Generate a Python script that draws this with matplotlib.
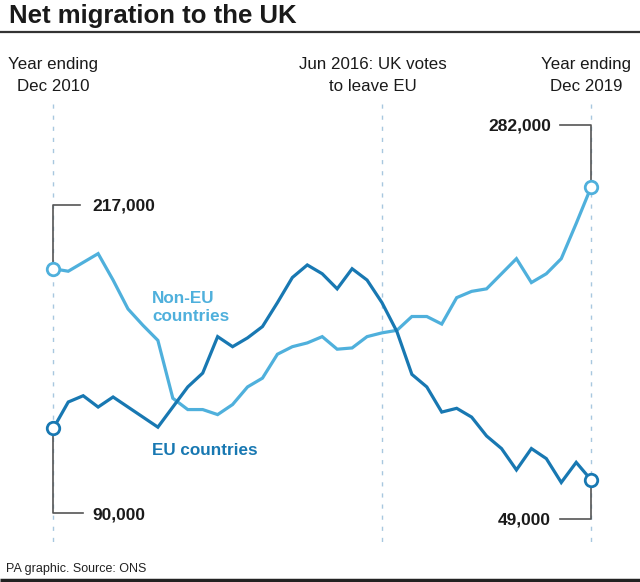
import matplotlib
matplotlib.use("Agg")
import matplotlib.pyplot as plt
import matplotlib.transforms as mtransforms

# ---- data (net migration, thousands, year ending each quarter) ----
quarters = ["Dec 2010", "Mar 2011", "Jun 2011", "Sep 2011", "Dec 2011", "Mar 2012", "Jun 2012",
            "Sep 2012", "Dec 2012", "Mar 2013", "Jun 2013", "Sep 2013", "Dec 2013", "Mar 2014",
            "Jun 2014", "Sep 2014", "Dec 2014", "Mar 2015", "Jun 2015", "Sep 2015", "Dec 2015",
            "Mar 2016", "Jun 2016", "Sep 2016", "Dec 2016", "Mar 2017", "Jun 2017", "Sep 2017",
            "Dec 2017", "Mar 2018", "Jun 2018", "Sep 2018", "Dec 2018", "Mar 2019", "Jun 2019",
            "Sep 2019", "Dec 2019"]
non_eu = [217, 215, 222, 229, 208, 185, 172, 160, 114, 105, 105, 101, 109, 123, 130, 149, 155,
          158, 163, 153, 154, 163, 166, 168, 179, 179, 173, 194, 199, 201, 213, 225, 206, 213,
          225, 253, 282]
eu = [90, 111, 116, 107, 115, 107, 99, 91, 107, 123, 134, 163, 155, 162, 171, 190, 210, 220,
      213, 201, 217, 208, 190, 167, 133, 123, 103, 106, 99, 84, 74, 57, 74, 66, 47, 63, 49]
marker_quarters = ["Dec 2010", "Jun 2016", "Dec 2019"]
header_labels = ["Year ending\nDec 2010", "Jun 2016: UK votes\nto leave EU", "Year ending\nDec 2019"]

NONEU_C = "#4fb0dc"
EU_C = "#1878b2"
DASH_C = "#a8c7df"
LEAD_C = "#555555"
TXT = "#1a1a1a"

plt.rcParams['font.family'] = ['Liberation Sans', 'DejaVu Sans']

W, H = 640, 582
fig = plt.figure(figsize=(W / 100, H / 100), dpi=100)
fig.patch.set_facecolor("white")
ax = fig.add_axes([0, 0, 1, 1])
ax.set_xlim(-3.568, 39.27)
ax.set_ylim(-32.13, 430.7)
ax.axis("off")

x = list(range(len(quarters)))

def fx(px):
    return px / W

def fy(py):
    return 1 - py / H

# title + rules
fig.text(fx(9), fy(22.7), "Net migration to the UK", fontsize=18.5, fontweight="bold",
         color=TXT, va="baseline", ha="left")
ax.plot([0, 1], [fy(31.5), fy(31.5)], transform=fig.transFigure, color="#333333", lw=1.6,
        solid_capstyle="butt")
ax.plot([0, 1], [fy(579.5), fy(579.5)], transform=fig.transFigure, color="#222222", lw=2.5,
        solid_capstyle="butt")
fig.text(fx(6), fy(572), "PA graphic. Source: ONS", fontsize=9, color="#222222",
         va="baseline", ha="left")

# dashed reference lines
blend = mtransforms.blended_transform_factory(ax.transData, fig.transFigure)
header_x = [53, 373, 586]
for q, lab, hx in zip(marker_quarters, header_labels, header_x):
    xi = quarters.index(q)
    ax.plot([xi, xi], [fy(104), fy(546)], transform=blend, color=DASH_C, lw=1.0,
            dashes=(3, 5), zorder=1)
    l1, l2 = lab.split("\n")
    fig.text(fx(hx), fy(69.3), l1, fontsize=12.2, color=TXT, ha="center", va="baseline")
    fig.text(fx(hx), fy(90.7), l2, fontsize=12.2, color=TXT, ha="center", va="baseline")

# lines
ax.plot(x, non_eu, color=NONEU_C, lw=2.3, zorder=3, solid_joinstyle="miter")
ax.plot(x, eu, color=EU_C, lw=2.3, zorder=3, solid_joinstyle="miter")

# end markers
for series, c in [(non_eu, NONEU_C), (eu, EU_C)]:
    ax.plot([x[0], x[-1]], [series[0], series[-1]], ls="none", marker="o", ms=9,
            mfc="white", mec=c, mew=2.0, zorder=5)

# leaders + value labels
def leader(xi, yv, dy_px, dx_end, label_dx, ha):
    # dy_px: vertical offset in pixels (positive = up); dx_end: horizontal leg in pixels
    base = ax.transData
    r = 7
    sgn = 1 if dy_px > 0 else -1
    t1 = mtransforms.offset_copy(base, fig=fig, x=0, y=sgn * r, units="dots")
    t2 = mtransforms.offset_copy(base, fig=fig, x=0, y=dy_px, units="dots")
    t3 = mtransforms.offset_copy(base, fig=fig, x=dx_end, y=dy_px, units="dots")
    p1 = t1.transform((xi, yv))
    p2 = t2.transform((xi, yv))
    p3 = t3.transform((xi, yv))
    inv = fig.transFigure.inverted()
    pts = inv.transform([p1, p2, p3])
    ax.plot(pts[:, 0], pts[:, 1], transform=fig.transFigure, color=LEAD_C, lw=1.2, zorder=4)
    tt = mtransforms.offset_copy(base, fig=fig, x=label_dx, y=dy_px - 6, units="dots")
    ax.text(xi, yv, f"{yv * 1000:,}", transform=tt, fontsize=12.5, fontweight="bold",
            color=TXT, ha=ha, va="baseline")

leader(x[0], non_eu[0], 64, 27, 39, "left")
leader(x[0], eu[0], -85, 30, 39, "left")
leader(x[-1], non_eu[-1], 62, -31, -40, "right")
leader(x[-1], eu[-1], -39, -31, -40, "right")

# series labels
fig.text(fx(152), fy(302.7), "Non-EU", fontsize=12.3, fontweight="bold", color=NONEU_C,
         ha="left", va="baseline")
fig.text(fx(152), fy(320.7), "countries", fontsize=12.3, fontweight="bold", color=NONEU_C,
         ha="left", va="baseline")
fig.text(fx(152), fy(455), "EU countries", fontsize=12.3, fontweight="bold", color=EU_C,
         ha="left", va="baseline")

fig.savefig("out.png", dpi=100, facecolor="white")
